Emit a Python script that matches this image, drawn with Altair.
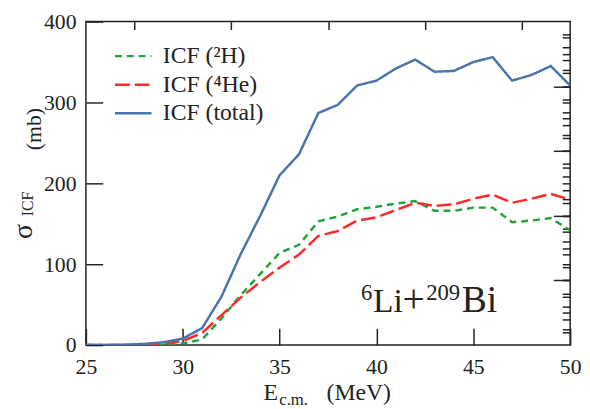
import altair as alt
import pandas as pd

# ---- data ----
energy = list(range(25, 51))
icf_2h = [0, 0, 0, 0.2, 0.8, 2, 7, 33, 62, 88, 114, 124, 153, 159, 168, 171,
          175, 178, 166, 166, 170, 170, 152, 154, 157, 142]
icf_4he = [0, 0, 0, 0.5, 2, 5, 15, 37, 59, 78, 96, 112, 135, 141, 154, 158,
           167, 176, 172, 174, 181, 186, 176, 181, 187, 180]
icf_total = [0, 0, 0.5, 1.5, 3.5, 8, 21, 60, 113, 160, 210, 236, 287, 297, 321, 327,
             342, 353, 338, 339, 350, 356, 327, 334, 345, 321]

series_names = ["ICF (²H)", "ICF (⁴He)", "ICF (total)"]
series_colors = ["#22a33a", "#ff2a2a", "#4a74ab"]
series_dash = [[7, 5], [15, 5], [1, 0]]

x_major = [25, 30, 35, 40, 45, 50]
x_minor = [27.5, 32.5, 37.5, 42.5, 47.5]
y_major = [0, 100, 200, 300, 400]
y_minor = list(range(20, 400, 20))
yr_major = [80, 160, 240, 320]
yr_minor = list(range(16, 400, 16))

FONT = "'Liberation Serif', 'Times New Roman', Times, serif"
INK = "#222222"

rows = []
for name, vals in zip(series_names, [icf_2h, icf_4he, icf_total]):
    for e, v in zip(energy, vals):
        rows.append({"E": e, "sigma": v, "series": name})
df = pd.DataFrame(rows)

xs = alt.Scale(domain=[25, 50], nice=False, zero=False)
ys = alt.Scale(domain=[0, 400], nice=False)


def ax(values, size, labels, pad=0):
    kw = dict(values=values, tickSize=size, offset=-size, domain=False, grid=False,
              tickColor=INK, tickWidth=1.5, labels=labels)
    if labels:
        kw.update(labelFont=FONT, labelFontSize=22, labelColor=INK,
                  labelPadding=pad, labelFlush=False, labelOverlap=False)
    return kw


lines = alt.Chart(df).mark_line(strokeWidth=2.5, clip=True).encode(
    x=alt.X("E:Q", scale=xs, title=None, axis=alt.Axis(**ax(x_major, 17, True, 12))),
    y=alt.Y("sigma:Q", scale=ys, title=None, axis=alt.Axis(**ax(y_major, 17, True, 10))),
    color=alt.Color("series:N", title=None,
                    scale=alt.Scale(domain=series_names, range=series_colors)),
    strokeDash=alt.StrokeDash("series:N", title=None,
                              scale=alt.Scale(domain=series_names, range=series_dash)),
)

minor = alt.Chart(df).mark_point(opacity=0).encode(
    x=alt.X("E:Q", scale=xs, title=None, axis=alt.Axis(**ax(x_minor, 8, False))),
    y=alt.Y("sigma:Q", scale=ys, title=None, axis=alt.Axis(**ax(y_minor, 8, False))),
)

right_major = alt.Chart(df).mark_point(opacity=0).encode(
    x=alt.X("E:Q", scale=xs, axis=None),
    y=alt.Y("sigma:Q", scale=ys, title=None,
            axis=alt.Axis(orient="right", **ax(yr_major, 17, False))),
)

right_minor = alt.Chart(df).mark_point(opacity=0).encode(
    x=alt.X("E:Q", scale=xs, axis=None),
    y=alt.Y("sigma:Q", scale=ys, title=None,
            axis=alt.Axis(orient="right", **ax(yr_minor, 8, False))),
)


def txt(s, x, y, size, angle=0, align="left", baseline="alphabetic"):
    return alt.Chart(pd.DataFrame({"t": [s]})).mark_text(
        font=FONT, fontSize=size, align=align, baseline=baseline, angle=angle, color=INK
    ).encode(text="t:N", x=alt.value(x), y=alt.value(y))


labels = [
    # x-axis title  E_c.m. (MeV)
    txt("E", 180, 384, 24),
    txt("c.m.", 196, 389, 17),
    txt("(MeV)", 244, 384, 24),
    # y-axis title  sigma_ICF (mb)
    txt("σ", -55, 213, 28, angle=270, align="center"),
    txt("ICF", -54, 185, 16, angle=270, align="center"),
    txt("(mb)", -46, 109, 22, angle=270, align="center"),
    # reaction label  6Li + 209Bi
    txt("6", 279, 282, 23),
    txt("Li", 291, 294, 34),
    txt("+", 321, 294, 40),
    txt("209", 345, 282, 23),
    txt("Bi", 381, 294, 38),
]

chart = alt.layer(lines, minor, right_major, right_minor, *labels).resolve_axis(
    x="independent", y="independent"
).properties(
    width=491, height=328,
    autosize=alt.AutoSizeParams(type="none"),
    padding={"left": 79, "top": 11, "right": 12, "bottom": 62},
).configure(
    font=FONT
).configure_view(
    stroke=INK, strokeWidth=1.5
).configure_legend(
    orient="none", legendX=28, legendY=21, padding=0,
    labelFont=FONT, labelFontSize=24, labelColor=INK, labelOffset=10,
    symbolType="stroke", symbolSize=1369, symbolStrokeWidth=2.5,
    clipHeight=28, rowPadding=1,
)

chart.save("out.html", embed_options={"renderer": "svg", "actions": False})
